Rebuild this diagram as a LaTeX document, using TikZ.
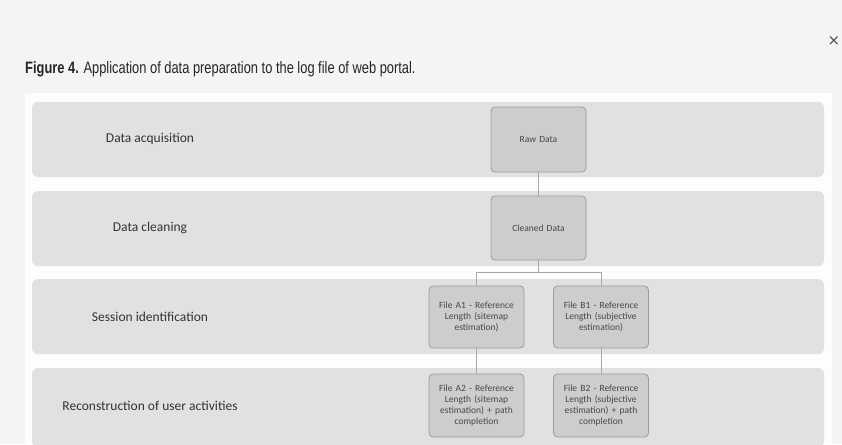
\documentclass[tikz,border=0pt]{standalone}
\usepackage{fontspec}
\setmainfont{Carlito}
\newfontfamily\titlefont{Liberation Sans}
\newfontfamily\symfont{DejaVu Sans}
\definecolor{outerbg}{HTML}{F4F4F4}
\definecolor{panelbg}{HTML}{FDFDFD}
\definecolor{lanefill}{HTML}{E1E1E1}
\definecolor{boxfill}{HTML}{CDCDCD}
\definecolor{boxline}{HTML}{9C9C9C}
\definecolor{linkline}{HTML}{A8A8A8}
\definecolor{txt}{HTML}{333333}
\tikzset{
  lane/.style={fill=lanefill, draw=none, rounded corners=6pt},
  lanelabel/.style={font=\fontsize{13.5}{15}\selectfont, text=txt, anchor=center},
  procbox/.style={draw=boxline, line width=0.8pt, fill=boxfill, rounded corners=4pt,
    minimum width=95pt, minimum height=63pt, align=center, text width=84pt,
    font=\fontsize{9.5}{11}\selectfont, text=txt!90, inner sep=0pt}
  ,link/.style={draw=linkline, line width=0.8pt}
}
\begin{document}
\begin{tikzpicture}[x=1pt,y=-1pt]
\useasboundingbox (0,0) rectangle (842,444);
\fill[outerbg] (0,0) rectangle (842,444);
\fill[panelbg] (25,93) rectangle (832,444);
% title
\node[anchor=base west, inner sep=0pt, text=black!85] (title) at (25,74)
  {\scalebox{0.78}[1]{\titlefont\fontsize{16.5}{18}\selectfont\textbf{Figure 4.} Application of data preparation to the log file of web portal.}};
\node[text=black!70, inner sep=0pt] (close) at (834,41) {\symfont\fontsize{15}{15}\selectfont ×};
% lanes
\fill[lane] (32,102) rectangle (824,177);
\fill[lane] (32,191) rectangle (824,266);
\fill[lane] (32,279) rectangle (824,354);
\fill[lane] (32,368) rectangle (824,447);
\node[lanelabel] (l1) at (150,139) {Data acquisition};
\node[lanelabel] (l2) at (150,228) {Data cleaning};
\node[lanelabel] (l3) at (150,317) {Session identification};
\node[lanelabel] (l4) at (150,406) {Reconstruction of user activities};
% boxes
\node[procbox, minimum height=65pt] (raw) at (538.5,139.5) {Raw Data};
\node[procbox, minimum height=64pt] (clean) at (538.5,228) {Cleaned Data};
\node[procbox, minimum height=62pt] (a1) at (476.5,317) {File A1 - Reference\\ Length (sitemap\\ estimation)};
\node[procbox, minimum height=62pt] (b1) at (601,317) {File B1 - Reference\\ Length (subjective\\ estimation)};
\node[procbox, minimum height=63pt] (a2) at (476.5,405.5) {File A2 - Reference\\ Length (sitemap\\ estimation) + path\\ completion};
\node[procbox, minimum height=63pt] (b2) at (601,405.5) {File B2 - Reference\\ Length (subjective\\ estimation) + path\\ completion};
% connectors
\coordinate (split) at (538.5,272.5);
\draw[link] (raw) -- (clean);
\draw[link] (clean.south) -- (split);
\draw[link] (split) -| (a1.north);
\draw[link] (split) -| (b1.north);
\draw[link] (a1) -- (a2);
\draw[link] (b1) -- (b2);
\end{tikzpicture}
\end{document}
